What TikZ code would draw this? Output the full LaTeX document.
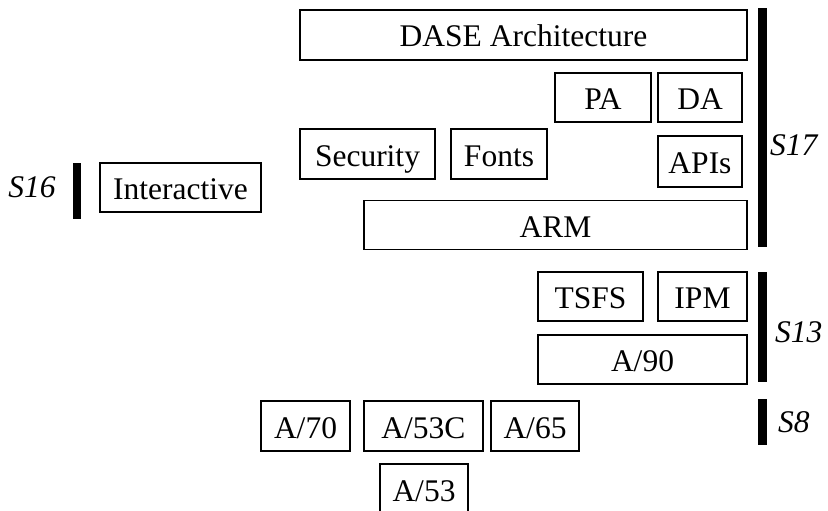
\documentclass[tikz,border=0pt]{standalone}
\usepackage{fontspec}
\setmainfont{Liberation Serif}
\usepackage{tikz}

\tikzset{
  blk/.style={draw, line width=1.1pt, inner sep=0pt, text height=24pt, text depth=0pt,
    font=\fontsize{31.5}{36}\selectfont},
  grp/.style={anchor=west, inner sep=0pt, font=\fontsize{31.5}{36}\selectfont\itshape},
  bar/.style={fill=black}
}

\begin{document}
\begin{tikzpicture}[x=1pt, y=-1pt]
\useasboundingbox (0,0) rectangle (828,511);
% S17 layer
\node[blk, minimum width=447, minimum height=50] (dase) at (523.5,35) {DASE Architecture};
\node[blk, minimum width=96, minimum height=49] (pa) at (603,97.5) {PA};
\node[blk, minimum width=84, minimum height=49] (da) at (700,97.5) {DA};
\node[blk, minimum width=135, minimum height=50] (sec) at (367.5,154) {Security};
\node[blk, minimum width=96, minimum height=50] (fonts) at (499,154) {Fonts};
\node[blk, minimum width=84, minimum height=51] (apis) at (700,161.5) {APIs};
\node[blk, minimum width=383, minimum height=49] (arm) at (555.5,225) {ARM};
\fill[bar] (758,8) rectangle (767,247);
\node[grp] (s17) at (770,145) {S17};
% S16
\node[blk, minimum width=161, minimum height=49] (inter) at (180.5,187.5) {Interactive};
\fill[bar] (73,163) rectangle (81,219);
\node[grp, anchor=center] (s16) at (32,187) {S16};
% S13 layer
\node[blk, minimum width=105, minimum height=49] (tsfs) at (590.5,296.5) {TSFS};
\node[blk, minimum width=89, minimum height=49] (ipm) at (702.5,296.5) {IPM};
\node[blk, minimum width=209, minimum height=49] (a90) at (642.5,359.5) {A/90};
\fill[bar] (758,272) rectangle (767,382);
\node[grp] (s13) at (775,332) {S13};
% S8 layer
\node[blk, minimum width=89, minimum height=50] (a70) at (305.5,426) {A/70};
\node[blk, minimum width=119, minimum height=50] (a53c) at (423.5,426) {A/53C};
\node[blk, minimum width=88, minimum height=50] (a65) at (535,426) {A/65};
\node[blk, minimum width=88, minimum height=50] (a53) at (424,489) {A/53};
\fill[bar] (758,399) rectangle (767,445);
\node[grp] (s8) at (778,422) {S8};
\end{tikzpicture}
\end{document}
